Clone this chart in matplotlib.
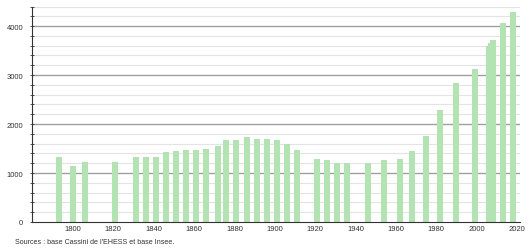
#!/usr/bin/env python3

import numpy as np
import matplotlib.pyplot as plt
import matplotlib as mpl

mpl.rcParams.update({'font.family': ['Liberation Sans', 'DejaVu Sans'], 'font.size': 5.5})

years = [1793, 1800, 1806, 1821, 1831, 1836, 1841, 1846, 1851, 1856, 1861, 1866,
         1872, 1876, 1881, 1886, 1891, 1896, 1901, 1906, 1911, 1921, 1926, 1931,
         1936, 1946, 1954, 1962, 1968, 1975, 1982, 1990, 1999, 2006, 2007, 2008,
         2013, 2018]
population = [1323, 1139, 1221, 1227, 1323, 1323, 1323, 1438, 1458, 1472, 1472, 1493,
              1554, 1671, 1671, 1745, 1697, 1697, 1671, 1589, 1472, 1288, 1261, 1213,
              1213, 1213, 1268, 1288, 1446, 1765, 2284, 2843, 3129, 3593, 3661, 3722,
              4063, 4288]
xticks = [1800, 1820, 1840, 1860, 1880, 1900, 1920, 1940, 1960, 1980, 2000, 2020]
yticks = [0, 1000, 2000, 3000, 4000]

fig = plt.figure(figsize=(5.29, 2.53), dpi=100)
ax = fig.add_axes((32/529, 1-223/253, 488/529, 215.5/253))

for y in np.arange(200, 4401, 200):
    if y % 1000 == 0:
        ax.axhline(y, color='#a0a0a0', lw=1.0, zorder=1)
    else:
        ax.axhline(y, color='#e3e3e3', lw=0.8, zorder=1)

ax.bar(years, population, width=3, color='#b3e3b3', zorder=2)

ax.set_xlim(1779.7, 2021.5)
ax.set_ylim(0, 4400)
ax.set_xticks(xticks)
ax.set_yticks(yticks)
ax.set_yticks(np.arange(0, 4401, 200), minor=True)
ax.tick_params(axis='x', length=0, pad=2.5, colors='#333333')
ax.tick_params(axis='y', which='both', direction='inout', length=2.5, width=0.6,
               pad=5.2, colors='#333333')

for side in ['top', 'right']:
    ax.spines[side].set_visible(False)
for side in ['left', 'bottom']:
    ax.spines[side].set_color('#333333')
    ax.spines[side].set_linewidth(0.8)

fig.text(15/529, 1-243/253, "Sources : base Cassini de l'EHESS et base Insee.",
         ha='left', va='center', color='#333333', fontsize=5.1)

plt.savefig("out.png", dpi=100)
